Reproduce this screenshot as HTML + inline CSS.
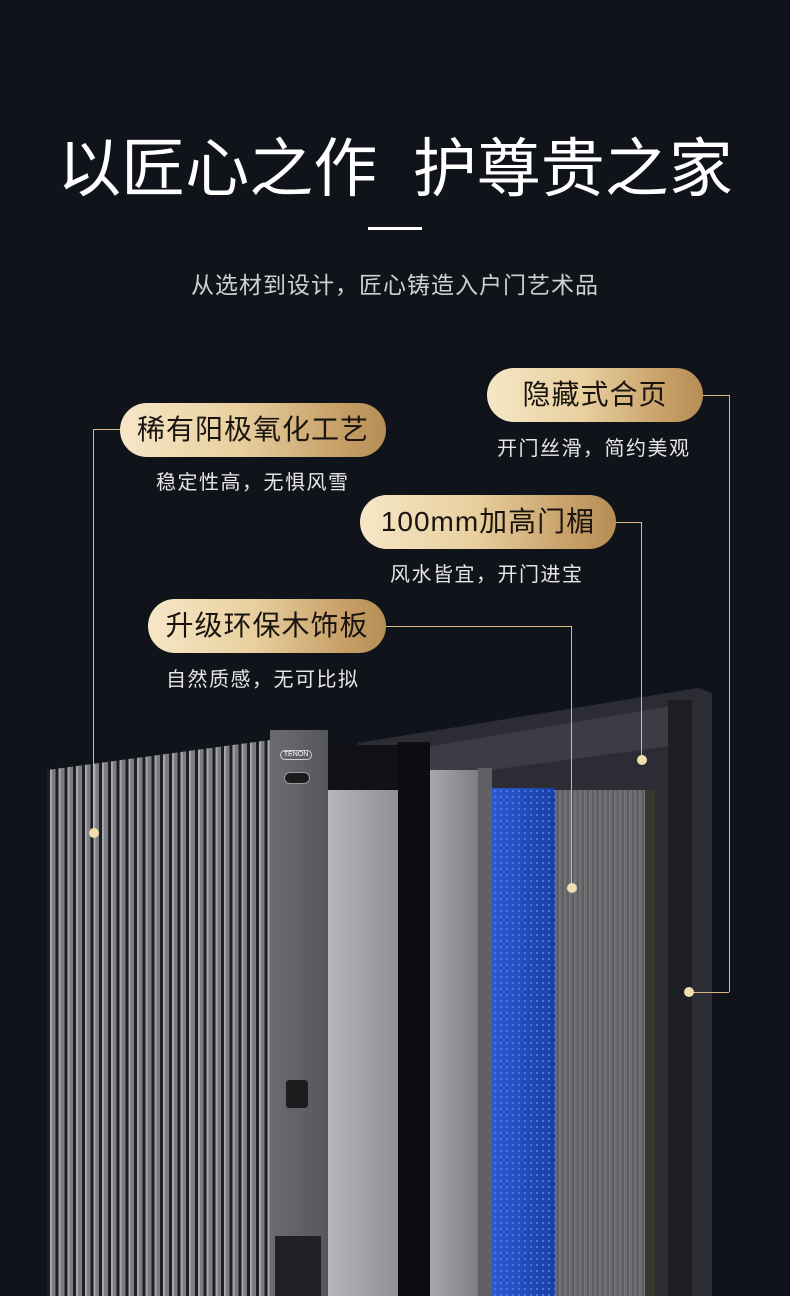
<!DOCTYPE html>
<html><head><meta charset="utf-8"><style>
*{margin:0;padding:0;box-sizing:border-box}
body{width:790px;height:1296px;background:#11131b;position:relative;overflow:hidden;font-family:"Liberation Sans","Noto Sans CJK SC",sans-serif;color:#fff}
.abs{position:absolute}
.t{left:0;width:790px;text-align:center}
.pill{position:absolute;height:54px;border-radius:27px;background:linear-gradient(90deg,#f6e7c7 0%,#e8cf9e 45%,#c9a26a 80%,#b58d55 100%);color:#1a1410;font-size:28px;line-height:54px;text-align:center;letter-spacing:1px}
.cap{position:absolute;font-size:20px;color:#e6e6e6;letter-spacing:1.5px}
.ln{position:absolute;background:#d9b981}
.dot{position:absolute;width:10px;height:10px;border-radius:50%;background:#f2dcb2}
</style></head><body>
<div class="abs t" style="top:118px;font-size:64px;letter-spacing:0px">以匠心之作&nbsp;&nbsp;护尊贵之家</div>
<div class="abs" style="left:368px;top:227px;width:54px;height:3px;background:#fff"></div>
<div class="abs t" style="top:266px;font-size:23px;letter-spacing:1px;color:#cfd0d4">从选材到设计，匠心铸造入户门艺术品</div>

<!-- door -->
<div class="abs" style="left:358px;top:688px;width:354px;height:608px;background:#2c2d34;clip-path:polygon(0 55px,340px 0,354px 5px,354px 608px,0 608px)"></div>
<div class="abs" style="left:378px;top:705px;width:300px;height:80px;background:#3c3d44;clip-path:polygon(0 50px,300px 0,300px 40px,0 80px)"></div>
<div class="abs" style="left:668px;top:700px;width:24px;height:596px;background:#1d1e22"></div>
<div class="abs" style="left:47px;top:740px;width:223px;height:556px;background:repeating-linear-gradient(90deg,#1e1f24 0 3px,#a4a6ab 3px 5px,#7a7c81 5px 8.7px);clip-path:polygon(0 30px,223px 0,223px 556px,0 556px)"></div>
<div class="abs" style="left:270px;top:730px;width:58px;height:566px;background:linear-gradient(90deg,#6a6c72,#55575d)"></div>
<div class="abs" style="left:280px;top:750px;width:32px;height:10px;border-radius:5px;border:1px solid #ccc;font-size:7px;text-align:center;line-height:8px">TENON</div>
<div class="abs" style="left:284px;top:772px;width:26px;height:12px;border-radius:6px;background:#1a1a1c;border:1px solid #999"></div>
<div class="abs" style="left:286px;top:1080px;width:22px;height:28px;border-radius:3px;background:#1c1c1f"></div>
<div class="abs" style="left:275px;top:1236px;width:46px;height:60px;background:#202124"></div>
<div class="abs" style="left:328px;top:745px;width:82px;height:551px;background:#111216"></div>
<div class="abs" style="left:328px;top:790px;width:70px;height:506px;background:linear-gradient(90deg,#b4b6bb,#8e9096)"></div>
<div class="abs" style="left:398px;top:742px;width:32px;height:554px;background:#0c0d10"></div>
<div class="abs" style="left:430px;top:770px;width:48px;height:526px;background:linear-gradient(90deg,#a6a8ad,#7c7e84)"></div>
<div class="abs" style="left:478px;top:768px;width:14px;height:528px;background:#5e6066"></div>
<div class="abs" style="left:492px;top:788px;width:63px;height:508px;background:radial-gradient(circle,#4a78e0 1px,transparent 1.3px) 0 0/6px 6px,linear-gradient(90deg,#2a5bd0,#1a3fa8)"></div>
<div class="abs" style="left:555px;top:790px;width:93px;height:506px;background:repeating-linear-gradient(90deg,#6c6d70 0 2px,#5d5e61 2px 4px,#77787b 4px 5px)"></div>
<div class="abs" style="left:645px;top:790px;width:10px;height:506px;background:#3a3630"></div>

<!-- connectors -->
<div class="ln" style="left:93px;top:429px;width:28px;height:1px"></div>
<div class="ln" style="left:93px;top:429px;width:1px;height:404px"></div>
<div class="dot" style="left:89px;top:828px"></div>
<div class="ln" style="left:703px;top:395px;width:26px;height:1px"></div>
<div class="ln" style="left:729px;top:395px;width:1px;height:597px"></div>
<div class="ln" style="left:688px;top:992px;width:41px;height:1px"></div>
<div class="dot" style="left:684px;top:987px"></div>
<div class="ln" style="left:616px;top:522px;width:25px;height:1px"></div>
<div class="ln" style="left:641px;top:522px;width:1px;height:238px"></div>
<div class="dot" style="left:637px;top:755px"></div>
<div class="ln" style="left:386px;top:626px;width:185px;height:1px"></div>
<div class="ln" style="left:571px;top:626px;width:1px;height:262px"></div>
<div class="dot" style="left:567px;top:883px"></div>

<div class="pill" style="left:120px;top:403px;width:266px">稀有阳极氧化工艺</div>
<div class="cap" style="left:156px;top:466px">稳定性高，无惧风雪</div>
<div class="pill" style="left:487px;top:368px;width:216px">隐藏式合页</div>
<div class="cap" style="left:497px;top:432px">开门丝滑，简约美观</div>
<div class="pill" style="left:360px;top:495px;width:256px">100mm加高门楣</div>
<div class="cap" style="left:390px;top:558px">风水皆宜，开门进宝</div>
<div class="pill" style="left:148px;top:599px;width:238px">升级环保木饰板</div>
<div class="cap" style="left:166px;top:663px">自然质感，无可比拟</div>
</body></html>
